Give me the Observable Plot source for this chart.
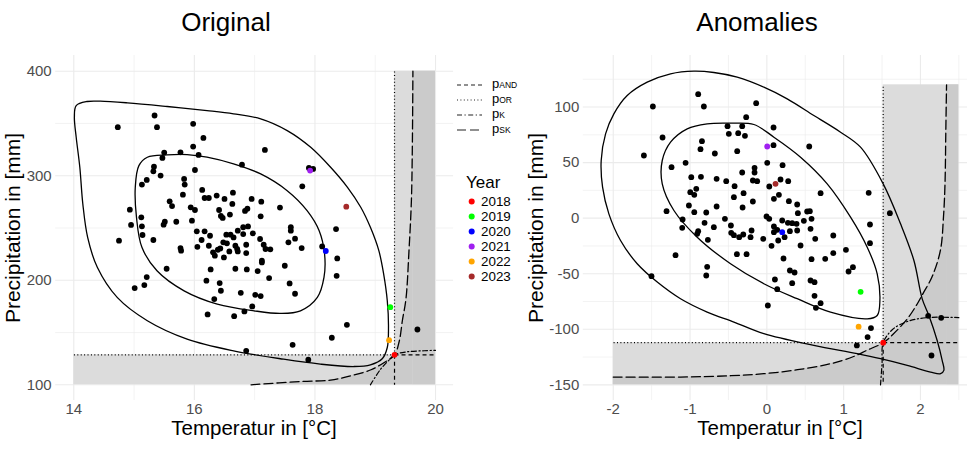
<!DOCTYPE html>
<html><head><meta charset="utf-8">
<script src="https://cdn.jsdelivr.net/npm/d3@7"></script>
<script src="https://cdn.jsdelivr.net/npm/@observablehq/plot@0.6"></script>
<style>
html,body{margin:0;padding:0;background:#fff;overflow:hidden;width:967px;height:449px;}
body{position:relative;font-family:"Liberation Sans",Arial,Helvetica,sans-serif;color:#000;}
.abs{position:absolute;white-space:nowrap;line-height:1;}
.sub{font-size:8.5px;}
</style></head><body>
<script>
// ---------------- DATA ----------------
const years = [2018, 2019, 2020, 2021, 2022, 2023];
const yearColors = ["#ff0000", "#00ff00", "#0000ff", "#a020f0", "#ffa500", "#a52a2a"];
const lineTypes = ["AND", "OR", "K", "SK"];

// Original panel
const origTitle = "Original";
const origXTicks = [14, 16, 18, 20];
const origYTicks = [100, 200, 300, 400];
const origXMinor = [15, 17, 19];
const origYMinor = [150, 250, 350];
const origYearTemp = [19.32, 19.25, 18.18, 17.92, 19.23, 18.52];
const origYearPrec = [128.7, 174.3, 228.0, 304.9, 142.7, 270.4];
const origBlack = [
[15.34,357.6],[14.73,346.4],[15.38,346.4],[15.98,349.6],[16.15,336.2],[15.98,327.9],[17.17,324.7],[16.07,319.9],[15.77,322.4],[15.50,322.1],
[15.47,317.0],[16.01,305.5],[16.79,310.6],[17.90,307.4],[17.97,306.5],[15.33,308.7],[15.32,304.2],[15.44,300.1],[15.21,296.0],[15.13,291.5],
[15.83,296.9],[15.84,291.5],[17.79,289.9],[16.13,286.4],[16.64,283.8],[16.17,278.7],[16.24,278.7],[16.37,281.0],[16.50,277.8],[15.81,281.9],
[15.59,275.5],[15.63,271.0],[16.95,277.8],[17.11,275.2],[16.63,273.0],[15.94,269.8],[16.01,267.2],[14.93,267.5],[17.42,269.5],[16.88,268.5],
[16.84,266.3],[16.41,267.2],[16.59,262.8],[16.44,261.5],[16.47,259.6],[17.10,261.2],[15.12,260.2],[15.96,257.0],[15.70,256.0],[15.51,256.0],
[15.49,253.2],[14.95,252.9],[15.13,251.6],[16.04,246.8],[16.17,246.8],[16.89,251.5],[16.81,250.7],[16.72,247.4],[16.97,244.9],[17.60,250.7],
[17.60,247.4],[18.35,249.0],[16.53,243.6],[16.60,243.6],[16.65,241.0],[16.81,244.2],[15.14,243.3],[16.26,242.6],[15.32,238.5],[14.75,237.9],
[16.12,238.5],[16.48,236.3],[16.54,235.3],[17.09,239.5],[17.67,239.8],[17.56,236.3],[17.15,234.0],[17.18,229.9],[17.26,229.6],[16.86,234.0],
[16.68,233.0],[16.71,229.9],[16.24,233.0],[16.05,232.0],[16.39,229.2],[16.43,230.5],[16.58,227.6],[16.31,226.7],[16.34,223.5],[15.77,230.8],
[15.78,228.3],[16.72,227.6],[16.86,226.0],[17.78,230.8],[18.12,232.4],[16.49,221.9],[17.12,218.7],[17.12,217.1],[18.37,220.9],[15.54,211.0],
[16.27,210.4],[16.68,211.0],[16.87,210.4],[17.05,208.8],[17.50,213.9],[17.24,202.1],[18.36,204.3],[15.21,203.1],[16.20,199.6],[16.42,197.3],
[16.44,190.0],[17.58,197.0],[15.17,195.4],[15.01,192.5],[16.77,188.0],[17.01,186.1],[17.10,184.9],[17.67,187.1],[16.33,182.0],[16.96,175.0],
[16.83,170.2],[16.22,167.3],[16.66,165.7],[18.53,157.4],[18.28,145.0],[17.63,138.3],[19.70,152.9],[16.86,132.5],[17.89,124.0]
];
const origOuter = [
[14.44,371.3],[14.89,369.7],[15.55,366.2],[16.21,362.3],[16.65,359.2],[17.10,354.4],[17.54,343.2],[17.93,327.2],[18.26,308.1],[18.54,288.9],
[18.76,269.8],[18.92,250.6],[19.06,228.3],[19.14,205.9],[19.20,180.4],[19.22,154.9],[19.20,135.7],[19.12,125.2],[18.92,119.1],[18.65,117.5],
[18.09,119.8],[17.48,124.5],[16.65,132.5],[15.88,143.7],[15.22,161.3],[14.72,183.6],[14.39,212.4],[14.23,241.0],[14.15,273.0],[14.10,308.1],
[14.04,336.8],[14.01,356.0],[14.04,367.1],[14.22,371.0]
];
const origInner = [
[15.22,317.7],[15.55,319.9],[15.88,320.2],[16.21,317.7],[16.65,311.3],[17.10,301.7],[17.54,285.7],[17.87,266.6],[18.07,247.4],[18.16,225.1],
[18.15,202.7],[18.04,183.6],[17.76,170.8],[17.43,168.3],[16.99,170.8],[16.38,177.2],[15.83,189.9],[15.38,209.1],[15.13,231.5],[15.04,260.2],
[15.02,288.9],[15.08,309.7]
];
const origPSK = [
[16.94,100],[17.77,103.2],[18.26,104.5],[18.59,108.6],[18.93,114.4],[19.15,121.4],[19.32,128.7],[19.40,142.1],[19.45,161.3],[19.51,182.3],
[19.56,228.3],[19.60,276.2],[19.615,324.1],[19.625,400]
];
const origPK = [[18.92,100],[19.09,115],[19.23,123.7],[19.32,128.7],[19.53,131.6],[19.81,132.6],[20,133]];

// Anomalies panel
const anomTitle = "Anomalies";
const anomXTicks = [-2, -1, 0, 1, 2];
const anomYTicks = [-150, -100, -50, 0, 50, 100];
const anomXMinor = [-1.5, -0.5, 0.5, 1.5, 2.5];
const anomYMinor = [-125, -75, -25, 25, 75, 125];
const anomYearTemp = [1.515, 1.221, 0.200, 0.005, 1.195, 0.113];
const anomYearPrec = [-112.1, -66.3, -12.6, 64.5, -97.7, 30.9];
const anomBlack = [
[-0.894,111.6],[-1.484,100.5],[-0.820,100.5],[-0.139,103.5],[-1.358,72.6],[-1.601,56.4],[-0.512,82.8],[-0.321,82.8],[-0.495,75.9],[-0.373,76.5],
[-0.285,74.1],[-0.269,90.9],[0.087,81.6],[-0.845,69.3],[-0.864,62.1],[-0.386,60.3],[-0.677,58.2],[0.087,65.7],[0.552,64.5],[-1.241,45.9],
[-1.058,49.8],[0.005,49.8],[0.205,47.7],[-0.160,45.3],[-0.160,41.1],[-0.321,41.1],[-0.984,36.9],[-0.858,37.2],[-0.654,35.4],[-0.529,33.3],
[-0.420,28.8],[-0.182,33.9],[-0.126,33.3],[0.032,28.5],[0.178,34.8],[0.278,33.3],[-0.997,23.4],[-0.919,26.4],[-0.945,21.0],[-0.429,18.9],
[-0.303,22.5],[-0.182,15.0],[0.092,17.4],[0.157,21.0],[0.700,22.5],[1.326,22.8],[0.287,15.3],[0.395,12.3],[-1.306,6.3],[-1.015,11.4],
[-0.945,5.4],[-0.789,5.1],[-0.316,9.6],[-1.097,-1.2],[-0.654,10.5],[-0.546,-0.6],[-0.004,1.5],[0.031,-0.6],[0.404,4.5],[0.525,6.0],
[0.560,6.3],[0.582,-0.6],[0.482,-2.4],[0.200,-2.1],[0.274,-4.2],[0.330,-4.5],[0.387,-5.1],[1.602,4.5],[-0.811,-4.2],[-0.690,-8.1],
[-0.468,-6.6],[-1.102,-8.7],[-0.894,-11.7],[-0.907,-14.1],[-0.464,-13.2],[-0.429,-15.3],[-0.307,-14.7],[-0.360,-17.1],[-0.199,-11.1],[-0.212,-17.1],
[0.092,-7.5],[0.135,-10.5],[0.092,-12.6],[0.300,-11.7],[0.395,-11.1],[0.569,-9.6],[1.343,-5.7],[0.231,-17.1],[0.148,-20.1],[0.061,-24.9],
[-0.047,-18.6],[-0.768,-19.5],[0.439,-24.6],[0.865,-15.6],[0.630,-18.6],[1.343,-22.5],[-0.390,-32.4],[-0.264,-32.4],[-1.189,-33.3],[0.217,-36.3],
[0.582,-36.9],[0.760,-36.6],[0.865,-31.5],[1.030,-28.5],[1.121,-44.1],[1.064,-48.0],[-0.777,-43.8],[-0.789,-51.6],[-1.502,-52.2],[0.300,-47.1],
[0.361,-48.9],[0.105,-55.2],[0.135,-63.9],[0.330,-58.5],[0.569,-56.1],[0.621,-57.6],[0.621,-69.9],[0.700,-76.5],[0.639,-80.7],[0.013,-78.6],
[1.356,-98.9],[1.312,-107.0],[1.172,-114.5],[2.101,-87.9],[2.270,-89.7],[2.144,-123.6]
];
const anomOuter = [
[-2.157,51.9],[-2.139,27.9],[-2.057,3.9],[-1.905,-20.1],[-1.688,-41.0],[-1.427,-57.5],[-1.124,-72.5],[-0.777,-84.5],[-0.429,-93.5],[-0.039,-104.0],
[0.612,-114.5],[1.177,-122.0],[1.480,-126.5],[1.828,-132.5],[2.132,-138.5],[2.262,-140.0],[2.305,-137.0],[2.283,-128.0],[2.218,-110.1],[2.110,-87.6],
[2.023,-72.6],[1.915,-38.1],[1.741,-5.1],[1.515,30.9],[1.220,63.9],[0.960,77.4],[0.612,92.4],[0.265,107.4],[-0.039,117.9],[-0.386,126.9],
[-0.690,131.1],[-0.950,132.3],[-1.254,129.9],[-1.558,122.4],[-1.818,110.4],[-1.992,93.9],[-2.100,75.9]
];
const anomInner = [
[-1.037,80.4],[-0.777,84.9],[-0.473,85.5],[-0.169,84.3],[0.092,72.9],[0.439,54.9],[0.786,30.9],[1.090,0.9],[1.307,-26.1],[1.437,-50.1],
[1.472,-74.1],[1.437,-87.6],[1.307,-90.6],[0.829,-84.6],[0.395,-72.5],[-0.039,-59.0],[-0.473,-41.0],[-0.907,-17.1],[-1.210,6.9],[-1.362,30.9],
[-1.362,51.9],[-1.254,68.4]
];
const anomPSK = [
[-2,-143],[-1.12,-143],[-0.47,-141.8],[-0.04,-140],[0.40,-136.4],[0.83,-131],[1.13,-124.5],[1.30,-119],[1.515,-112.1],[1.65,-104],
[1.83,-90.5],[1.96,-77],[2.04,-67],[2.15,-53],[2.26,-29],[2.30,1],[2.32,31],[2.33,76],[2.34,120]
];
const anomPK = [[1.48,-150],[1.50,-131],[1.515,-112.1],[1.64,-100],[1.83,-93],[2.09,-89.5],[2.5,-89.5]];

// ---------------- LAYOUT HELPERS ----------------
const FONT = '"Liberation Sans", Arial, Helvetica, sans-serif';
function addDiv(html, style) {
  const d = document.createElement("div");
  d.className = "abs";
  d.innerHTML = html;
  Object.assign(d.style, style);
  document.body.appendChild(d);
  return d;
}

function panel(cfg) {
  const [xMin, xMax] = cfg.box[0], [yMin, yMax] = cfg.box[1];
  const ox = cfg.yearTemp[0], oy = cfg.yearPrec[0];
  const light = [{x1: ox, x2: xMax, y1: yMin, y2: yMax}, {x1: xMin, x2: ox, y1: yMin, y2: oy}];
  const lastX = cfg.psk[cfg.psk.length - 1][0];
  const dark = [{x1: lastX, x2: xMax, y1: yMin, y2: yMax}];
  const orLinks = [{x1: ox, y1: oy, x2: xMin, y2: oy}, {x1: ox, y1: oy, x2: ox, y2: yMax}];
  const andLinks = [{x1: ox, y1: oy, x2: xMax, y2: oy}, {x1: ox, y1: oy, x2: ox, y2: yMin}];
  const hl = years.map((y, i) => ({year: y, x: cfg.yearTemp[i], y: cfg.yearPrec[i], c: yearColors[i]}));
  const X = d => d[0], Y = d => d[1];
  const grid = {stroke: "#ebebeb", strokeOpacity: 1};
  const p = Plot.plot({
    width: cfg.width, height: 449,
    marginLeft: cfg.ml, marginRight: cfg.mr, marginTop: 55, marginBottom: 49,
    x: {domain: cfg.xDomain}, y: {domain: cfg.yDomain},
    color: {type: "identity"},
    style: {background: "transparent", fontFamily: FONT, overflow: "visible", maxWidth: "none"},
    marks: [
      Plot.gridX(cfg.xMinor, {...grid, strokeWidth: 0.6}),
      Plot.gridY(cfg.yMinor, {...grid, strokeWidth: 0.6}),
      Plot.gridX(cfg.xTicks, {...grid, strokeWidth: 1.1}),
      Plot.gridY(cfg.yTicks, {...grid, strokeWidth: 1.1}),
      Plot.rect(light, {x1: "x1", x2: "x2", y1: "y1", y2: "y2", fill: "#dcdcdc"}),
      Plot.areaY(cfg.psk, {x: X, y1: () => yMin, y2: Y, fill: "#cbcbcb", curve: "catmull-rom"}),
      Plot.rect(dark, {x1: "x1", x2: "x2", y1: "y1", y2: "y2", fill: "#cbcbcb"}),
      Plot.line(cfg.outer, {x: X, y: Y, curve: "catmull-rom-closed", stroke: "#000", strokeWidth: 1.3}),
      Plot.line(cfg.inner, {x: X, y: Y, curve: "catmull-rom-closed", stroke: "#000", strokeWidth: 1.3}),
      Plot.link(orLinks, {x1: "x1", y1: "y1", x2: "x2", y2: "y2", stroke: "#000", strokeWidth: 1.2, strokeDasharray: "1,2.4"}),
      Plot.link(andLinks, {x1: "x1", y1: "y1", x2: "x2", y2: "y2", stroke: "#000", strokeWidth: 1.2, strokeDasharray: "4,3"}),
      Plot.line(cfg.pk, {x: X, y: Y, curve: "catmull-rom", stroke: "#000", strokeWidth: 1.2, strokeDasharray: "5,2.5,1.2,2.5"}),
      Plot.line(cfg.psk, {x: X, y: Y, curve: "catmull-rom", stroke: "#000", strokeWidth: 1.3, strokeDasharray: "9,4"}),
      Plot.dot(cfg.black, {x: X, y: Y, r: 2.9, fill: "#000"}),
      Plot.dot(hl, {x: "x", y: "y", r: 2.9, fill: "c"}),
      Plot.axisX(cfg.xTicks, {tickSize: 0, tickPadding: 2.5, fontSize: 15, color: "#4d4d4d", label: null, tickFormat: d => String(d)}),
      Plot.axisY(cfg.yTicks, {tickSize: 0, tickPadding: 4, fontSize: 15, color: "#4d4d4d", label: null, tickFormat: d => String(d)})
    ]
  });
  p.style.position = "absolute";
  p.style.left = cfg.left + "px";
  p.style.top = "0px";
  document.body.appendChild(p);
}

panel({
  left: 0, width: 460, ml: 55.2, mr: 6.9,
  xDomain: [13.7, 20.3], yDomain: [85, 415],
  box: [[14, 20], [100, 400]],
  xTicks: origXTicks, yTicks: origYTicks, xMinor: origXMinor, yMinor: origYMinor,
  yearTemp: origYearTemp, yearPrec: origYearPrec,
  black: origBlack, outer: origOuter, inner: origInner, psk: origPSK, pk: origPK
});
panel({
  left: 520, width: 460, ml: 62.8, mr: 4,
  xDomain: [-2.39, 2.73], yDomain: [-164.1, 146.4],
  box: [[-2, 2.5], [-150, 120]],
  xTicks: anomXTicks, yTicks: anomYTicks, xMinor: anomXMinor, yMinor: anomYMinor,
  yearTemp: anomYearTemp, yearPrec: anomYearPrec,
  black: anomBlack, outer: anomOuter, inner: anomInner, psk: anomPSK, pk: anomPK
});

// ---------------- TITLES / AXIS TITLES ----------------
addDiv(origTitle, {left: "226px", top: "22px", fontSize: "26px", transform: "translate(-50%,-50%)"});
addDiv(anomTitle, {left: "757px", top: "22px", fontSize: "26px", transform: "translate(-50%,-50%)"});
const xTitle = "Temperatur in [°C]", yTitle = "Precipitation in [mm]";
addDiv(xTitle, {left: "254px", top: "418px", fontSize: "20.5px", transform: "translate(-50%,0)"});
addDiv(xTitle, {left: "780px", top: "418px", fontSize: "20.5px", transform: "translate(-50%,0)"});
addDiv(yTitle, {left: "11.5px", top: "227.5px", fontSize: "21px", transform: "translate(-50%,-50%) rotate(-90deg)"});
addDiv(yTitle, {left: "535px", top: "227.5px", fontSize: "21px", transform: "translate(-50%,-50%) rotate(-90deg)"});

// ---------------- LEGENDS ----------------
const dashes = ["4,3", "1,2.4", "5,2.5,1.2,2.5", "9,4"];
const lg = d3.create("svg").attr("width", 30).attr("height", 60)
  .style("position", "absolute").style("left", "455px").style("top", "78px");
lineTypes.forEach((t, i) => {
  lg.append("line").attr("x1", 2).attr("x2", 27).attr("y1", 7 + i * 15).attr("y2", 7 + i * 15)
    .attr("stroke", "#222").attr("stroke-width", 1.1).attr("stroke-dasharray", dashes[i]);
  addDiv('p<span class="sub">' + t + '</span>', {left: "492px", top: (77.4 + i * 15) + "px", fontSize: "13px"});
});
document.body.appendChild(lg.node());

addDiv("Year", {left: "466px", top: "175px", fontSize: "17px", lineHeight: "0.9"});
const yl = d3.create("svg").attr("width", 14).attr("height", 95)
  .style("position", "absolute").style("left", "465px").style("top", "195px");
years.forEach((y, i) => {
  yl.append("circle").attr("cx", 6.7).attr("cy", 6.5 + i * 15).attr("r", 3).attr("fill", yearColors[i]);
  addDiv(String(y), {left: "481px", top: (195 + i * 15) + "px", fontSize: "13.4px"});
});
document.body.appendChild(yl.node());
</script>
</body></html>
